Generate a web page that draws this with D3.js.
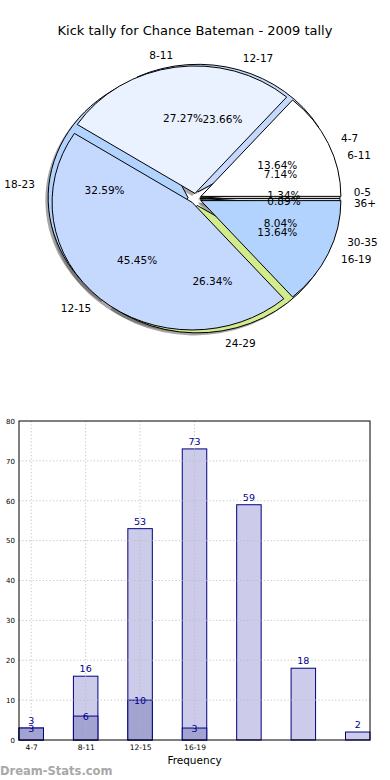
<!DOCTYPE html>
<html>
<head>
<meta charset="utf-8">
<script src="https://cdn.jsdelivr.net/npm/d3@7"></script>
<style>
  body { margin: 0; background: #fff; }
  svg { font-family: 'DejaVu Sans', sans-serif; display: block; }
</style>
</head>
<body>
<svg id="chart" width="390" height="780"></svg>
<script>
// inner ring of the pie + overlay bars
const catsA = ['4-7', '8-11', '12-15', '16-19'];
const valsA = [3, 6, 10, 3];
// outer ring of the pie + background bars
const catsB = ['0-5', '6-11', '12-17', '18-23', '24-29', '30-35', '36+'];
const valsB = [3, 16, 53, 73, 59, 18, 2];

const titleText = 'Kick tally for Chance Bateman - 2009 tally';
const yTicks = [0, 10, 20, 30, 40, 50, 60, 70, 80];

const pieColors = ['#ffffff', '#eaf1ff', '#c5d9ff', '#b3d3ff', '#d2eb8c', '#ffe0a8', '#f4f4f4'];
// how far each wedge is pulled out (fraction of radius)
const explodeA = [0.04, 0.04, 0.04, 0.04];
const explodeB = [0.03, 0.035, 0.055, 0.055, 0.055, 0.035, 0.03];

const svg = d3.select('#chart');

svg.append('text')
  .attr('x', 195).attr('y', 30)
  .attr('text-anchor', 'middle')
  .attr('dominant-baseline', 'central')
  .style('font-size', '13px')
  .text(titleText);

//---------------- pie ----------------
const cx = 195.8, cy = 198.5, rx = 140, ry = 127.5;

// matplotlib style: counter clockwise from 3 o'clock, so flip d3 angles
const pie = d3.pie().sort(null).startAngle(0).endAngle(2 * Math.PI);
const unitArc = d3.arc().innerRadius(0).outerRadius(1)
  .startAngle(d => Math.PI / 2 - d.endAngle)
  .endAngle(d => Math.PI / 2 - d.startAngle);

function buildPie(cats, vals, explode) {
  return pie(vals).map((d, i) => {
    const mid = (d.startAngle + d.endAngle) / 2;
    return {
      d: d, cat: cats[i], color: pieColors[i % pieColors.length],
      mid: mid,
      ox: cx + explode[i] * rx * Math.cos(mid),
      oy: cy - explode[i] * ry * Math.sin(mid),
      pct: (d.value / d3.sum(vals) * 100).toFixed(2) + '%'
    };
  });
}

const wedgesB = buildPie(catsB, valsB, explodeB);
const wedgesA = buildPie(catsA, valsA, explodeA);

const pieG = svg.append('g');

// shadows first, under both pies
pieG.selectAll('path.shadow')
  .data(wedgesB.concat(wedgesA))
  .join('path')
  .attr('class', 'shadow')
  .attr('transform', w => `translate(${w.ox - 0.02 * rx},${w.oy + 0.02 * ry}) scale(${rx},${ry})`)
  .attr('d', w => unitArc(w.d))
  .style('fill', '#4d4d4d')
  .style('opacity', 0.5);

function drawWedges(list, cls) {
  pieG.selectAll('path.' + cls)
    .data(list)
    .join('path')
    .attr('class', cls)
    .attr('transform', w => `translate(${w.ox},${w.oy}) scale(${rx},${ry})`)
    .attr('d', w => unitArc(w.d))
    .attr('vector-effect', 'non-scaling-stroke')
    .style('fill', w => w.color)
    .style('stroke', '#000')
    .style('stroke-width', 1)
    .style('stroke-linejoin', 'round');
}
drawWedges(wedgesB, 'wb');
drawWedges(wedgesA, 'wa');

function drawLabels(list) {
  pieG.selectAll(null)
    .data(list)
    .join('text')
    .attr('x', w => w.ox + 1.1 * rx * Math.cos(w.mid))
    .attr('y', w => w.oy - 1.1 * ry * Math.sin(w.mid))
    .attr('text-anchor', w => Math.cos(w.mid) > 0 ? 'start' : 'end')
    .attr('dominant-baseline', 'central')
    .style('font-size', '10.5px')
    .text(w => w.cat);
  pieG.selectAll(null)
    .data(list)
    .join('text')
    .attr('x', w => w.ox + 0.6 * rx * Math.cos(w.mid))
    .attr('y', w => w.oy - 0.6 * ry * Math.sin(w.mid))
    .attr('text-anchor', 'middle')
    .attr('dominant-baseline', 'central')
    .style('font-size', '10.5px')
    .text(w => w.pct);
}
drawLabels(wedgesB);
drawLabels(wedgesA);

//---------------- bars ----------------
const plotL = 19, plotR = 370, plotT = 421, plotB = 740;
const barW = 0.45;
const x = d3.scaleLinear().domain([-barW / 2, valsB.length - 1 + barW / 2]).range([plotL, plotR]);
const y = d3.scaleLinear().domain([0, 80]).range([plotB, plotT]);

const barG = svg.append('g');

barG.selectAll('rect.b')
  .data(valsB)
  .join('rect')
  .attr('class', 'b')
  .attr('x', (d, i) => x(i - barW / 2))
  .attr('width', x(barW) - x(0))
  .attr('y', d => y(d))
  .attr('height', d => y(0) - y(d))
  .style('fill', '#ccccea')
  .style('stroke', '#000080')
  .style('stroke-width', 1);

barG.selectAll('rect.a')
  .data(valsA)
  .join('rect')
  .attr('class', 'a')
  .attr('x', (d, i) => x(i - barW / 2))
  .attr('width', x(barW) - x(0))
  .attr('y', d => y(d))
  .attr('height', d => y(0) - y(d))
  .style('fill', '#a3a3d1')
  .style('stroke', '#000080')
  .style('stroke-width', 1);

// dotted grid on top of bars
barG.selectAll('line.hg')
  .data(yTicks.filter(t => t > 0 && t < 80))
  .join('line')
  .attr('x1', plotL).attr('x2', plotR)
  .attr('y1', d => y(d)).attr('y2', d => y(d))
  .style('stroke', '#b8b8b8')
  .style('stroke-dasharray', '1.2,2.2')
  .style('opacity', 0.8);

barG.selectAll('line.vg')
  .data(catsA)
  .join('line')
  .attr('x1', (d, i) => x(i)).attr('x2', (d, i) => x(i))
  .attr('y1', plotT).attr('y2', plotB)
  .style('stroke', '#b8b8b8')
  .style('stroke-dasharray', '1.2,2.2')
  .style('opacity', 0.8);

barG.append('rect')
  .attr('x', plotL).attr('y', plotT)
  .attr('width', plotR - plotL).attr('height', plotB - plotT)
  .style('fill', 'none')
  .style('stroke', '#000')
  .style('stroke-width', 1);

// value labels
barG.selectAll('text.vb')
  .data(valsB)
  .join('text')
  .attr('class', 'vb')
  .attr('x', (d, i) => x(i))
  .attr('y', d => y(d) - 4)
  .attr('text-anchor', 'middle')
  .style('font-size', '9.5px')
  .style('fill', '#000090')
  .text(d => d);

barG.selectAll('text.va')
  .data(valsA)
  .join('text')
  .attr('class', 'va')
  .attr('x', (d, i) => x(i))
  .attr('y', d => y(d))
  .attr('text-anchor', 'middle')
  .attr('dominant-baseline', 'central')
  .style('font-size', '9.5px')
  .style('fill', '#000090')
  .text(d => d);

// axes
const yAxis = d3.axisLeft(y).tickValues(yTicks).tickSize(0).tickPadding(4);
const yg = svg.append('g').attr('transform', `translate(${plotL},0)`).call(yAxis);
yg.select('.domain').remove();
yg.selectAll('text').style('font-size', '7px').style('font-family', 'DejaVu Sans');

const xAxis = d3.axisBottom(x).tickValues(catsA.map((d, i) => i)).tickFormat(i => catsA[i]).tickSize(0).tickPadding(5);
const xg = svg.append('g').attr('transform', `translate(0,${plotB})`).call(xAxis);
xg.select('.domain').remove();
xg.selectAll('text').style('font-size', '7.5px').style('font-family', 'DejaVu Sans');

svg.append('text')
  .attr('x', (plotL + plotR) / 2).attr('y', 760)
  .attr('text-anchor', 'middle')
  .attr('dominant-baseline', 'central')
  .style('font-size', '10.5px')
  .text('Frequency');

svg.append('text')
  .attr('x', 0).attr('y', 771)
  .attr('dominant-baseline', 'central')
  .style('font-size', '11.5px')
  .style('font-weight', 'bold')
  .style('fill', '#a8a8a8')
  .text('Dream-Stats.com');
</script>
</body>
</html>
